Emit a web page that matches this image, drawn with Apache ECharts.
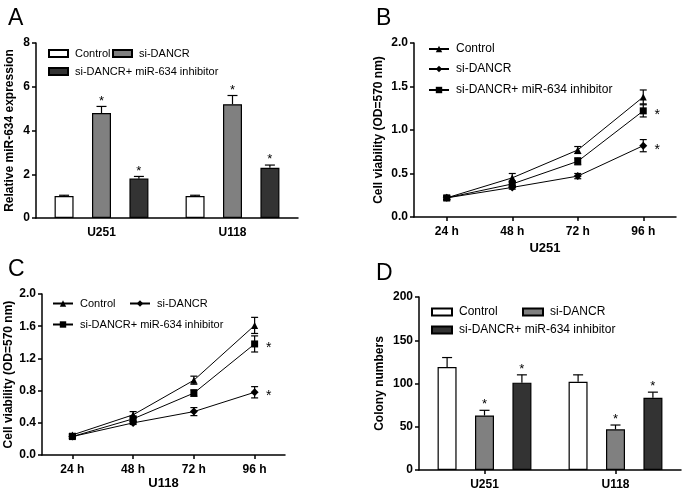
<!DOCTYPE html>
<html><head><meta charset="utf-8">
<script src="https://cdn.jsdelivr.net/npm/echarts@6/dist/echarts.min.js"></script>
<style>html,body{margin:0;padding:0;background:#fff}#c{width:685px;height:491px}</style>
</head><body><div id="c"></div>
<script>
// ---- Data ----
const aCats = ['U251', 'U118'];
const aControl = [1.0, 1.0];
const aControlErr = [0.04, 0.04];
const aSi = [4.8, 5.2];
const aSiErr = [0.3, 0.4];
const aInh = [1.8, 2.3];
const aInhErr = [0.1, 0.12];

const hours = ['24 h', '48 h', '72 h', '96 h'];
const bControl = [0.22, 0.45, 0.77, 1.38];
const bControlErr = [0.02, 0.05, 0.04, 0.08];
const bSi = [0.22, 0.34, 0.47, 0.82];
const bSiErr = [0.02, 0.02, 0.03, 0.07];
const bInh = [0.22, 0.38, 0.64, 1.22];
const bInhErr = [0.02, 0.03, 0.04, 0.07];

const cControl = [0.25, 0.50, 0.93, 1.61];
const cControlErr = [0.02, 0.04, 0.05, 0.10];
const cSi = [0.23, 0.40, 0.54, 0.78];
const cSiErr = [0.02, 0.02, 0.05, 0.07];
const cInh = [0.23, 0.45, 0.77, 1.38];
const cInhErr = [0.02, 0.03, 0.04, 0.10];

const dCats = ['U251', 'U118'];
const dControl = [119, 102];
const dControlErr = [11, 8];
const dSi = [63, 47];
const dSiErr = [6, 5];
const dInh = [101, 83.5];
const dInhErr = [9, 6.5];

const noStar = [0, 0, 0, 0];
const barStar = [1, 1];
const lineStar = [0, 0, 0, 1];

const nameCtl = 'Control', nameSi = 'si-DANCR', nameInh = 'si-DANCR+ miR-634 inhibitor';

// ---- Styles ----
const FONT = 'Liberation Sans, Arial, sans-serif';
const INK = '#000';
const WHITE = '#ffffff', GREY = '#808080', DARK = '#333333';

const chart = echarts.init(document.getElementById('c'), null, {renderer: 'canvas'});

function errSeries(id, grid, vals, errs, stars, offset, cap, both, starMode) {
  return {
    type: 'custom', name: id, xAxisIndex: grid, yAxisIndex: grid, z: 5, silent: true, clip: false,
    data: vals.map((v, i) => [i, v, errs[i], stars[i]]),
    renderItem: function (params, api) {
      const i = api.value(0), v = api.value(1), e = api.value(2), s = api.value(3);
      const c = api.coord([i, v]);
      const t = api.coord([i, v + e]);
      const b = api.coord([i, both ? v - e : v]);
      const x = c[0] + offset;
      const st = {stroke: INK, lineWidth: 1.2};
      const ch = [
        {type: 'line', shape: {x1: x, y1: b[1], x2: x, y2: t[1]}, style: st},
        {type: 'line', shape: {x1: x - cap, y1: t[1], x2: x + cap, y2: t[1]}, style: st}
      ];
      if (both) ch.push({type: 'line', shape: {x1: x - cap, y1: b[1], x2: x + cap, y2: b[1]}, style: st});
      if (s) {
        if (starMode === 'top') {
          ch.push({type: 'text', x: x, y: t[1] + 1, style: {text: '*', font: '13px ' + FONT, fill: INK, align: 'center', verticalAlign: 'bottom'}});
        } else {
          ch.push({type: 'text', x: c[0] + 14, y: c[1] + 4, style: {text: '*', font: '14px ' + FONT, fill: INK, align: 'center', verticalAlign: 'middle'}});
        }
      }
      return {type: 'group', children: ch};
    }
  };
}

function barSeries(name, grid, vals, color) {
  return {
    type: 'bar', name: name, xAxisIndex: grid, yAxisIndex: grid, data: vals,
    barWidth: 19, barGap: '97%',
    itemStyle: {color: color, borderColor: INK, borderWidth: 1.2}
  };
}
function lineSeries(name, grid, vals, symbol, size) {
  return {
    type: 'line', name: name, xAxisIndex: grid, yAxisIndex: grid, data: vals,
    symbol: symbol, symbolSize: size, z: 4,
    lineStyle: {color: INK, width: 1}, itemStyle: {color: INK}
  };
}

const axisLine = {show: true, lineStyle: {color: INK, width: 1.5}};
const axisTick = {show: true, length: 4, lineStyle: {color: INK, width: 1.5}};
const tickLabel = {color: INK, fontFamily: FONT, fontWeight: 'bold', fontSize: 12};

function xAx(grid, cats, showTick, name, gap) {
  return {
    type: 'category', gridIndex: grid, data: cats, boundaryGap: true,
    axisLine: axisLine, axisTick: Object.assign({}, axisTick, {show: showTick, alignWithLabel: true}),
    axisLabel: Object.assign({}, tickLabel, {margin: 9}),
    name: name || '', nameLocation: 'middle', nameGap: gap || 0,
    nameTextStyle: {color: INK, fontFamily: FONT, fontWeight: 'bold', fontSize: 13}
  };
}
function yAx(grid, min, max, interval, name, gap, dec) {
  return {
    type: 'value', gridIndex: grid, min: min, max: max, interval: interval,
    splitLine: {show: false}, axisLine: axisLine, axisTick: axisTick,
    axisLabel: Object.assign({}, tickLabel, {margin: 6, formatter: v => dec ? v.toFixed(dec) : String(v)}),
    name: name, nameLocation: 'middle', nameGap: gap,
    nameTextStyle: {color: INK, fontFamily: FONT, fontWeight: 'bold', fontSize: 12}
  };
}

function leg(name, left, top, w, h, fs, icon) {
  const o = {
    data: [name], left: left, top: top, itemWidth: w, itemHeight: h, padding: 0,
    selectedMode: false, formatter: n => n.split('|')[1],
    textStyle: {color: INK, fontFamily: FONT, fontSize: fs, padding: [0, 0, 0, 2]}
  };
  if (icon) o.icon = icon;
  return o;
}

const option = {
  animation: false,
  backgroundColor: '#fff',
  title: [
    {text: 'A', left: 3, top: 2, textStyle: {fontFamily: FONT, fontWeight: 'normal', fontSize: 23, color: INK}},
    {text: 'B', left: 371, top: 2, textStyle: {fontFamily: FONT, fontWeight: 'normal', fontSize: 23, color: INK}},
    {text: 'C', left: 3, top: 253, textStyle: {fontFamily: FONT, fontWeight: 'normal', fontSize: 23, color: INK}},
    {text: 'D', left: 371, top: 257, textStyle: {fontFamily: FONT, fontWeight: 'normal', fontSize: 23, color: INK}}
  ],
  grid: [
    {left: 36, top: 43, width: 262, height: 175},
    {left: 414, top: 43, width: 262, height: 174},
    {left: 42, top: 294, width: 243, height: 162},
    {left: 419, top: 297, width: 262, height: 173}
  ],
  xAxis: [
    xAx(0, aCats, false),
    xAx(1, hours, true, 'U251', 25),
    xAx(2, hours, true, 'U118', 21),
    xAx(3, dCats, true)
  ],
  yAxis: [
    yAx(0, 0, 8, 2, 'Relative miR-634 expression', 20, 0),
    yAx(1, 0, 2, 0.5, 'Cell viability (OD=570 nm)', 29, 1),
    yAx(2, 0, 2, 0.4, 'Cell viability (OD=570 nm)', 27, 1),
    yAx(3, 0, 200, 50, 'Colony numbers', 33, 0)
  ],
  legend: [
    leg('A|' + nameCtl, 48, 48, 19, 7, 11, 'rect'),
    leg('A|' + nameSi, 112, 48, 19, 7, 11, 'rect'),
    leg('A|' + nameInh, 48, 66, 19, 7, 11, 'rect'),
    leg('B|' + nameCtl, 428, 43, 20, 8, 12),
    leg('B|' + nameSi, 428, 63, 20, 8, 12),
    leg('B|' + nameInh, 428, 84, 20, 8, 12),
    leg('C|' + nameCtl, 52, 298, 20, 8, 11),
    leg('C|' + nameSi, 129, 298, 20, 8, 11),
    leg('C|' + nameInh, 52, 319, 20, 8, 11),
    leg('D|' + nameCtl, 431, 306, 20, 7, 12, 'rect'),
    leg('D|' + nameSi, 522, 306, 20, 7, 12, 'rect'),
    leg('D|' + nameInh, 431, 324, 20, 7, 12, 'rect')
  ],
  series: [
    barSeries('A|' + nameCtl, 0, aControl, WHITE),
    barSeries('A|' + nameSi, 0, aSi, GREY),
    barSeries('A|' + nameInh, 0, aInh, DARK),
    errSeries('eA1', 0, aControl, aControlErr, [0, 0], -37.4, 5, false, 'top'),
    errSeries('eA2', 0, aSi, aSiErr, barStar, 0, 5, false, 'top'),
    errSeries('eA3', 0, aInh, aInhErr, barStar, 37.4, 5, false, 'top'),

    lineSeries('B|' + nameCtl, 1, bControl, 'triangle', 7),
    lineSeries('B|' + nameSi, 1, bSi, 'diamond', 8),
    lineSeries('B|' + nameInh, 1, bInh, 'rect', 7),
    errSeries('eB1', 1, bControl, bControlErr, noStar, 0, 3.5, true, 'side'),
    errSeries('eB2', 1, bSi, bSiErr, lineStar, 0, 3.5, true, 'side'),
    errSeries('eB3', 1, bInh, bInhErr, lineStar, 0, 3.5, true, 'side'),

    lineSeries('C|' + nameCtl, 2, cControl, 'triangle', 7),
    lineSeries('C|' + nameSi, 2, cSi, 'diamond', 8),
    lineSeries('C|' + nameInh, 2, cInh, 'rect', 7),
    errSeries('eC1', 2, cControl, cControlErr, noStar, 0, 3.5, true, 'side'),
    errSeries('eC2', 2, cSi, cSiErr, lineStar, 0, 3.5, true, 'side'),
    errSeries('eC3', 2, cInh, cInhErr, lineStar, 0, 3.5, true, 'side'),

    barSeries('D|' + nameCtl, 3, dControl, WHITE),
    barSeries('D|' + nameSi, 3, dSi, GREY),
    barSeries('D|' + nameInh, 3, dInh, DARK),
    errSeries('eD1', 3, dControl, dControlErr, [0, 0], -37.4, 5, false, 'top'),
    errSeries('eD2', 3, dSi, dSiErr, barStar, 0, 5, false, 'top'),
    errSeries('eD3', 3, dInh, dInhErr, barStar, 37.4, 5, false, 'top')
  ]
};
chart.setOption(option);
</script></body></html>
